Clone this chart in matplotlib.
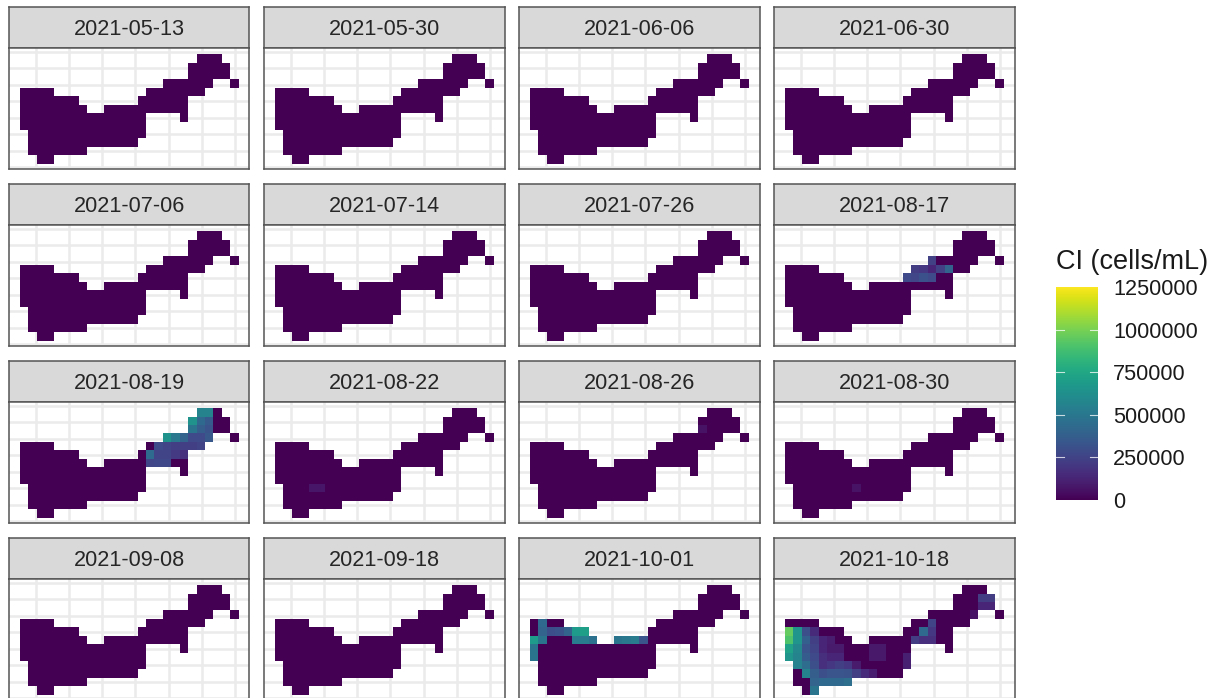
import numpy as np
import matplotlib
matplotlib.use("Agg")
import matplotlib.pyplot as plt
from matplotlib.colors import Normalize

plt.rcParams['font.family'] = ['Liberation Sans', 'DejaVu Sans']

dates = ["2021-05-13", "2021-05-30", "2021-06-06", "2021-06-30",
         "2021-07-06", "2021-07-14", "2021-07-26", "2021-08-17",
         "2021-08-19", "2021-08-22", "2021-08-26", "2021-08-30",
         "2021-09-08", "2021-09-18", "2021-10-01", "2021-10-18"]

# lake raster: '#' = water cell, each string is one row of cells (north at top)
lake_mask = [
    ".....................###..",
    "....................#####.",
    "....................#####.",
    ".................######..#",
    "####...........#######....",
    "#######.......######......",
    "########..##########......",
    "###############....#......",
    "###############...........",
    ".##############...........",
    ".#############............",
    ".#######..................",
    "..##......................",
]

# non-zero cells per date: (row, column, cells/mL)
ci_0817 = [(3, 17, 240000),
           (4, 15, 220000), (4, 16, 200000), (4, 17, 130000), (4, 18, 240000), (4, 19, 400000),
           (5, 14, 280000), (5, 15, 260000), (5, 16, 310000), (5, 17, 280000)]
ci_0819 = [(0, 21, 560000), (0, 22, 560000),
           (1, 20, 640000), (1, 21, 420000), (1, 22, 350000),
           (2, 20, 480000), (2, 21, 370000), (2, 22, 320000),
           (3, 17, 630000), (3, 18, 500000), (3, 19, 400000), (3, 20, 280000), (3, 21, 280000), (3, 22, 340000),
           (4, 16, 280000), (4, 17, 250000), (4, 18, 230000), (4, 19, 230000), (4, 20, 230000), (4, 21, 250000),
           (5, 15, 430000), (5, 16, 250000), (5, 17, 250000), (5, 18, 210000), (5, 19, 170000),
           (6, 15, 260000), (6, 16, 270000), (6, 17, 270000)]
ci_0822 = [(9, 4, 70000), (9, 5, 70000)]
ci_0826 = [(2, 20, 60000)]
ci_0830 = [(9, 8, 60000)]
ci_1001 = [(4, 1, 420000),
           (5, 1, 400000), (5, 2, 300000), (5, 3, 320000), (5, 4, 400000), (5, 5, 680000), (5, 6, 700000),
           (6, 0, 680000), (6, 1, 480000), (6, 5, 520000), (6, 6, 520000), (6, 7, 470000),
           (6, 10, 480000), (6, 11, 500000), (6, 12, 520000), (6, 13, 330000),
           (7, 0, 480000), (8, 0, 480000)]
ci_1018 = [(1, 23, 220000), (1, 24, 220000), (2, 23, 130000), (2, 24, 130000), (3, 22, 60000),
           (4, 17, 250000),
           (5, 0, 950000), (5, 1, 650000), (5, 2, 300000), (5, 3, 150000), (5, 16, 420000), (5, 17, 200000),
           (6, 0, 900000), (6, 1, 650000), (6, 2, 380000), (6, 3, 230000), (6, 4, 130000), (6, 5, 100000),
           (6, 15, 220000), (6, 16, 170000), (6, 17, 170000),
           (7, 0, 720000), (7, 1, 580000), (7, 2, 330000), (7, 3, 250000), (7, 4, 130000), (7, 5, 90000),
           (7, 6, 90000), (7, 10, 80000), (7, 11, 80000),
           (8, 0, 650000), (8, 1, 560000), (8, 2, 360000), (8, 3, 280000), (8, 4, 170000), (8, 5, 130000),
           (8, 6, 130000), (8, 10, 80000), (8, 11, 80000), (8, 14, 110000),
           (9, 1, 550000), (9, 2, 440000), (9, 3, 300000), (9, 4, 170000), (9, 5, 200000), (9, 6, 230000),
           (9, 7, 200000), (9, 8, 90000), (9, 14, 110000),
           (10, 2, 560000), (10, 3, 370000), (10, 4, 300000), (10, 5, 330000), (10, 6, 330000),
           (10, 7, 320000), (10, 8, 230000), (10, 9, 150000), (10, 10, 100000),
           (11, 3, 400000), (11, 4, 420000), (11, 5, 420000), (11, 6, 420000), (11, 7, 450000),
           (12, 3, 480000)]
ci_by_date = {"2021-08-17": ci_0817, "2021-08-19": ci_0819, "2021-08-22": ci_0822,
              "2021-08-26": ci_0826, "2021-08-30": ci_0830, "2021-10-01": ci_1001,
              "2021-10-18": ci_1018}

legend_ticks = [0, 250000, 500000, 750000, 1000000, 1250000]
vmax = 1250000
grid_x = [1.92, 5.86, 9.80, 13.74, 17.68, 21.62, 25.56]
grid_y = [-0.24, 1.67, 3.63, 5.59, 7.55, 9.51, 11.47, 13.41]

W, H = 1216, 698
fig = plt.figure(figsize=(W / 100, H / 100), dpi=100, facecolor="white")
norm = Normalize(0, vmax)
cmap = plt.get_cmap("viridis")


def px_axes(left, top, width, height, **kw):
    return fig.add_axes([left / W, 1 - (top + height) / H, width / W, height / H], **kw)


base = np.array([[0.0 if c == "#" else np.nan for c in row] for row in lake_mask])
nrow, ncol = base.shape
edge = "#555555"
fs = 15.6

for k, d in enumerate(dates):
    r, c = divmod(k, 4)
    left = 9 + 255 * c
    top = 7 + 177 * r

    st = px_axes(left, top, 240.5, 41, facecolor="#D9D9D9")
    st.set_xticks([]); st.set_yticks([])
    for s in st.spines.values():
        s.set_color(edge); s.set_linewidth(1.1)
    st.text(0.5, 0.44, d, transform=st.transAxes, ha="center", va="center",
            fontsize=fs, color="#262626")

    ax = px_axes(left, top + 41, 240.5, 120.5, facecolor="white")
    vals = base.copy()
    for i, j, v in ci_by_date.get(d, []):
        vals[i, j] = v
    ax.pcolormesh(np.arange(ncol + 1), np.arange(nrow + 1), vals, cmap=cmap, norm=norm,
                  shading="flat", zorder=3, antialiased=False)
    ax.set_xlim(-1.3, ncol + 1.3)
    ax.set_ylim(nrow + 0.57, -0.72)
    ax.set_xticks([]); ax.set_yticks([])
    for g in grid_x:
        ax.axvline(g, color="#EBEBEB", lw=1.8, zorder=1)
    for g in grid_y:
        ax.axhline(g, color="#EBEBEB", lw=1.8, zorder=1)
    for s in ax.spines.values():
        s.set_color(edge); s.set_linewidth(1.1); s.set_zorder(5)

# colour bar legend
cb = px_axes(1056, 287, 42, 213)
grad = np.linspace(0, vmax, 256).reshape(-1, 1)
cb.imshow(grad, origin="lower", aspect="auto", cmap=cmap, norm=norm, extent=[0, 1, 0, vmax])
cb.set_xticks([])
cb.set_ylim(0, vmax)
cb.yaxis.tick_right()
cb.set_yticks(legend_ticks)
cb.set_yticklabels([str(t) for t in legend_ticks], fontsize=fs, color="#1a1a1a")
cb.tick_params(axis="y", length=0, pad=10.8)
for s in cb.spines.values():
    s.set_visible(False)
for t in legend_ticks[1:-1]:
    cb.plot([0, 0.2], [t, t], color="white", lw=0.8, alpha=0.75)
    cb.plot([0.8, 1], [t, t], color="white", lw=0.8, alpha=0.75)
cb.set_xlim(0, 1)
fig.text(1056 / W, 1 - 262 / H, "CI (cells/mL)", fontsize=19.5, ha="left", va="center", color="#1a1a1a")

fig.savefig("out.png", dpi=100)
